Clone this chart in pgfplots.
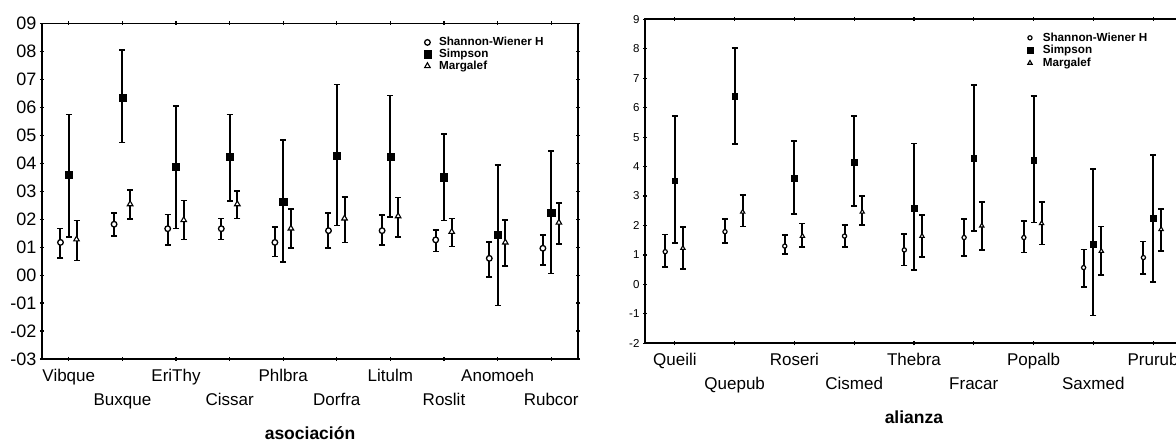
\documentclass[border=0pt]{standalone}
\usepackage{pgfplots}
\pgfplotsset{compat=1.18}
\usepackage{pgfplotstable}
\usepackage{fontspec}
\setmainfont{Liberation Sans}

\pgfplotstableread{
x h hlo hhi s slo shi m mlo mhi
0 1.17 0.62 1.67 3.58 1.37 5.75 1.28 0.52 1.95
1 1.82 1.40 2.23 6.36 4.75 8.05 2.54 2.00 3.04
2 1.66 1.08 2.17 3.88 1.67 6.05 1.97 1.27 2.67
3 1.66 1.28 2.03 4.23 2.66 5.75 2.54 2.02 3.01
4 1.17 0.66 1.73 2.64 0.46 4.83 1.67 0.96 2.36
5 1.59 0.98 2.23 4.28 1.78 6.82 2.03 1.17 2.80
6 1.59 1.08 2.15 4.23 2.07 6.43 2.11 1.36 2.78
7 1.26 0.84 1.61 3.50 1.96 5.05 1.55 1.02 2.02
8 0.60 -0.07 1.18 1.44 -1.08 3.94 1.17 0.33 1.97
9 0.96 0.36 1.44 2.23 0.06 4.44 1.88 1.12 2.57
}\asoc

\pgfplotstableread{
x h hlo hhi s slo shi m mlo mhi
0 1.11 0.60 1.69 3.52 1.40 5.72 1.23 0.53 1.94
1 1.79 1.40 2.22 6.39 4.76 8.02 2.46 1.96 3.04
2 1.30 1.03 1.67 3.60 2.38 4.87 1.64 1.26 2.07
3 1.64 1.26 2.02 4.15 2.66 5.72 2.46 2.01 3.00
4 1.17 0.64 1.72 2.58 0.49 4.79 1.64 0.94 2.36
5 1.59 0.96 2.22 4.28 1.82 6.77 1.99 1.17 2.80
6 1.59 1.08 2.16 4.21 2.10 6.40 2.07 1.36 2.79
7 0.57 -0.08 1.19 1.36 -1.06 3.91 1.13 0.32 1.96
8 0.91 0.35 1.45 2.24 0.09 4.39 1.87 1.13 2.55
}\alia

\pgfplotsset{
  base/.style={
    scale only axis, clip=false,
    axis line style={line width=1.8pt},
    tick style={black, line width=1.2pt},
    major tick length=4pt, tick align=center,
    xticklabel style={font=\fontsize{17}{24}\selectfont, align=center},
    legend cell align=left,
    legend image code/.code={\draw[##1] plot coordinates {(0pt,0pt)};},
  },
  eb/.style={
    black, only marks,
    error bars/y dir=both, error bars/y explicit,
    error bars/error bar style={line width=2pt, black},
    error bars/error mark options={rotate=90, mark size=3pt, line width=1.6pt, black},
  },
}

\begin{document}
\begin{tikzpicture}
% ---------- left panel ----------
\begin{axis}[base,
  at={(42pt,82pt)}, anchor=south west,
  width=536pt, height=335.5pt,
  xmin=-0.5, xmax=9.5, ymin=-3, ymax=9,
  xtick={0,...,9},
  xticklabels={{\strut Vibque},{\strut\\\strut Buxque},{\strut EriThy},{\strut\\\strut Cissar},{\strut Phlbra},{\strut\\\strut Dorfra},{\strut Litulm},{\strut\\\strut Roslit},{\strut Anomoeh},{\strut\\\strut Rubcor}},
  ytick={-3,...,9},
  yticklabels={-03,-02,-01,00,01,02,03,04,05,06,07,08,09},
  yticklabel style={font=\fontsize{18}{20}\selectfont},
  xlabel={\textbf{asociación}},
  xlabel style={at={(axis description cs:0.5,0)}, anchor=center, yshift=-74pt, font=\fontsize{17.5}{20}\selectfont},
  legend style={draw=none, fill=none, at={(axis description cs:0.712,0.965)}, anchor=north west,
    font=\bfseries\fontsize{11.7}{12}\selectfont, row sep=-2.2pt, column sep=6pt, inner sep=0pt},
]
\addplot[eb, mark=*, mark size=2.8pt, mark options={fill=white, draw=black, line width=1.3pt}]
  table[x expr=\thisrow{x}-0.155, y=h, y error plus expr=\thisrow{hhi}-\thisrow{h}, y error minus expr=\thisrow{h}-\thisrow{hlo}] {\asoc};
\addlegendentry{Shannon-Wiener H}
\addplot[eb, mark=square*, mark size=3.6pt, mark options={fill=black, draw=black}]
  table[x=x, y=s, y error plus expr=\thisrow{shi}-\thisrow{s}, y error minus expr=\thisrow{s}-\thisrow{slo}] {\asoc};
\addlegendentry{Simpson}
\addplot[eb, mark=triangle*, mark size=3.2pt, mark options={fill=white, draw=black, line width=1.1pt}]
  table[x expr=\thisrow{x}+0.144, y=m, y error plus expr=\thisrow{mhi}-\thisrow{m}, y error minus expr=\thisrow{m}-\thisrow{mlo}] {\asoc};
\addlegendentry{Margalef}
\end{axis}

% ---------- right panel ----------
\begin{axis}[base,
  at={(645pt,97.7pt)}, anchor=south west,
  width=538pt, height=324pt,
  xmin=-0.5, xmax=8.5, ymin=-2, ymax=9,
  xtick={0,...,8},
  xticklabels={{\strut Queili},{\strut\\\strut Quepub},{\strut Roseri},{\strut\\\strut Cismed},{\strut Thebra},{\strut\\\strut Fracar},{\strut Popalb},{\strut\\\strut Saxmed},{\strut Prurub}},
  ytick={-2,...,9},
  yticklabels={-2,-1,0,1,2,3,4,5,6,7,8,9},
  yticklabel style={font=\fontsize{11.5}{13}\selectfont},
  xlabel={\textbf{alianza}},
  xlabel style={at={(axis description cs:0.5,0)}, anchor=center, yshift=-74pt, font=\fontsize{17.5}{20}\selectfont},
  legend style={draw=none, fill=none, at={(axis description cs:0.71,0.965)}, anchor=north west,
    font=\bfseries\fontsize{11.7}{12}\selectfont, row sep=-1.4pt, column sep=8pt, inner sep=0pt},
]
\addplot[eb, mark=*, mark size=2.1pt, mark options={fill=white, draw=black, line width=1.2pt}]
  table[x expr=\thisrow{x}-0.162, y=h, y error plus expr=\thisrow{hhi}-\thisrow{h}, y error minus expr=\thisrow{h}-\thisrow{hlo}] {\alia};
\addlegendentry{Shannon-Wiener H}
\addplot[eb, mark=square*, mark size=2.8pt, mark options={fill=black, draw=black}]
  table[x=x, y=s, y error plus expr=\thisrow{shi}-\thisrow{s}, y error minus expr=\thisrow{s}-\thisrow{slo}] {\alia};
\addlegendentry{Simpson}
\addplot[eb, mark=triangle*, mark size=2.5pt, mark options={fill=white, draw=black, line width=1.1pt}]
  table[x expr=\thisrow{x}+0.134, y=m, y error plus expr=\thisrow{mhi}-\thisrow{m}, y error minus expr=\thisrow{m}-\thisrow{mlo}] {\alia};
\addlegendentry{Margalef}
\end{axis}

\pgfresetboundingbox
\path[use as bounding box] (0,0) rectangle (1176pt,441pt);
\end{tikzpicture}
\end{document}
